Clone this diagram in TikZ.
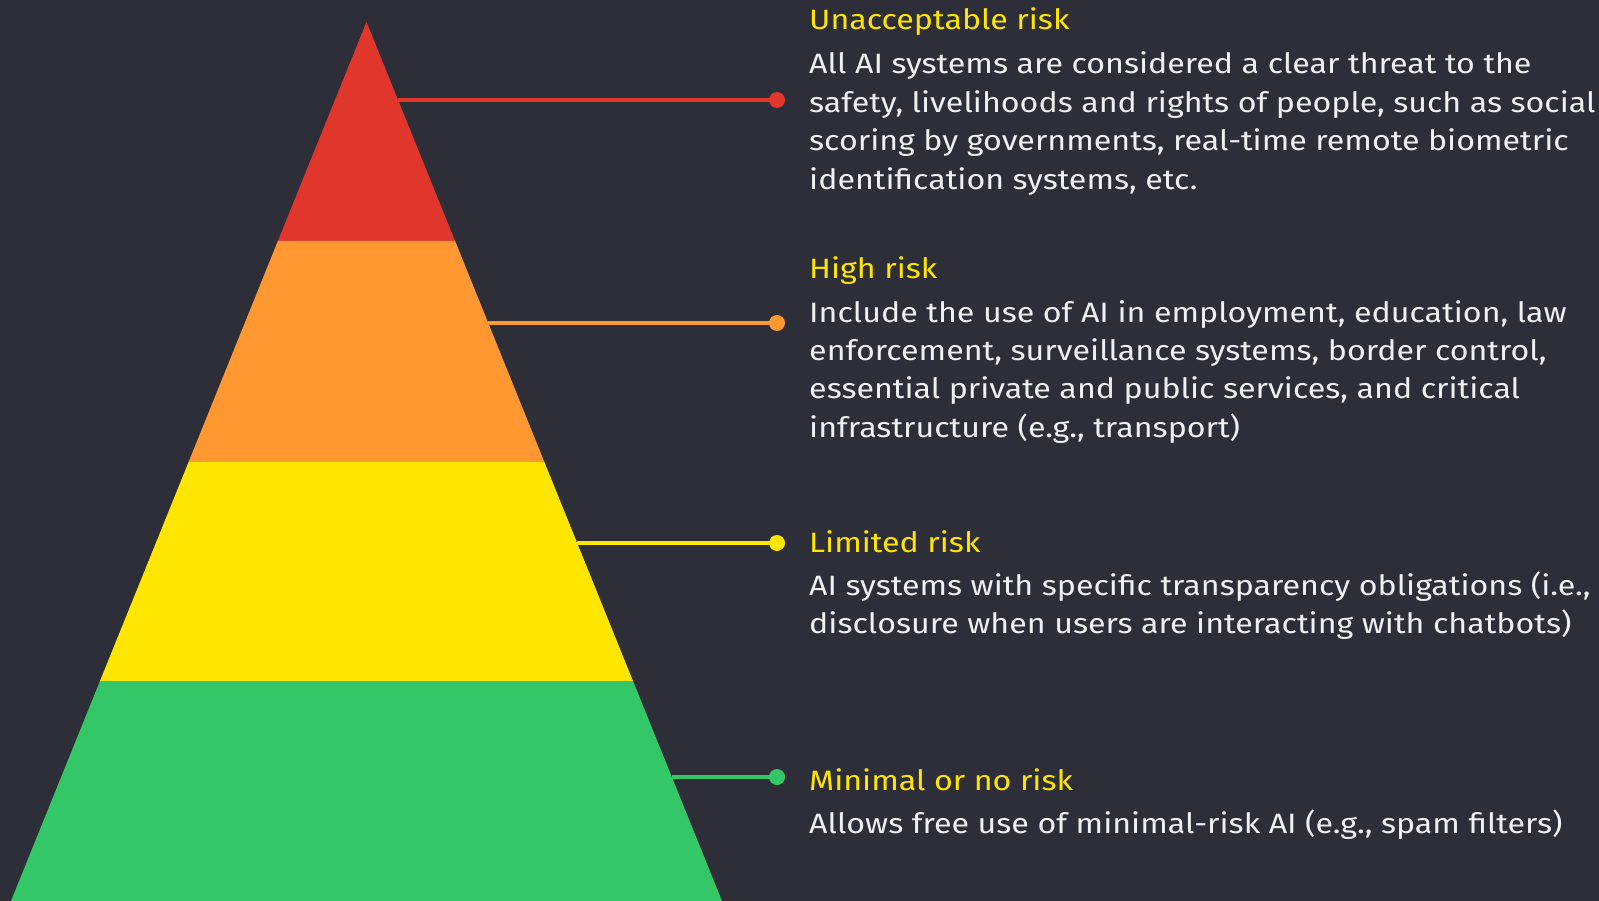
\documentclass[tikz,border=0pt]{standalone}
\usepackage{fontspec}
\setmainfont[FakeStretch=1.15]{Fira Sans}
\usetikzlibrary{positioning}

\definecolor{bgdark}{RGB}{46,46,56}
\definecolor{riskred}{RGB}{224,54,44}
\definecolor{riskorange}{RGB}{255,152,49}
\definecolor{riskyellow}{RGB}{255,230,0}
\definecolor{riskgreen}{RGB}{52,199,104}
\definecolor{bodytext}{RGB}{240,240,242}

\begin{document}
\begin{tikzpicture}[x=1pt,y=-1pt,
    tiertitle/.style={anchor=base west,inner sep=0pt,text=riskyellow,font=\fontsize{28}{38.4}\selectfont},
    tierbody/.style={anchor=base west,inner sep=0pt,text=bodytext,align=left,font=\fontsize{28}{38.4}\selectfont},
    leader/.style={line width=4pt},
    enddot/.style={circle,inner sep=0pt,minimum size=16pt}]
    % background
    \path[use as bounding box,fill=bgdark] (0,0) rectangle (1599,901);
    % pyramid tiers
    \fill[riskred] (366.5,22) -- (455.1,241) -- (277.9,241) -- cycle;
    \fill[riskorange] (277.9,241) -- (455.1,241) -- (544.4,462) -- (188.6,462) -- cycle;
    \fill[riskyellow] (188.6,462) -- (544.4,462) -- (633,681) -- (100,681) -- cycle;
    \fill[riskgreen] (100,681) -- (633,681) -- (722,901) -- (11,901) -- cycle;
    % leader lines
    \coordinate (edgered) at (398,100);
    \coordinate (edgeorange) at (488.2,323);
    \coordinate (edgeyellow) at (577.2,543);
    \coordinate (edgegreen) at (671.8,777);
    \node[enddot,fill=riskred] (dotred) at (777,100) {};
    \node[enddot,fill=riskorange] (dotorange) at (777,323) {};
    \node[enddot,fill=riskyellow] (dotyellow) at (777,543) {};
    \node[enddot,fill=riskgreen] (dotgreen) at (777,777) {};
    \draw[leader,riskred] (edgered) -- (dotred.center);
    \draw[leader,riskorange] (edgeorange) -- (dotorange.center);
    \draw[leader,riskyellow] (edgeyellow) -- (dotyellow.center);
    \draw[leader,riskgreen] (edgegreen) -- (dotgreen.center);
    % texts (body nodes sit on their last baseline)
    \node[tiertitle] (titlered) at (809,30) {Unacceptable risk};
    \node[tierbody] (bodyred) at (809,189.2) {All AI systems are considered a clear threat to the\\
        safety, livelihoods and rights of people, such as social\\
        scoring by governments, real-time remote biometric\\
        identification systems, etc.};
    \node[tiertitle] (titleorange) at (809,279) {High risk};
    \node[tierbody] (bodyorange) at (809,437.2) {Include the use of AI in employment, education, law\\
        enforcement, surveillance systems, border control,\\
        essential private and public services, and critical\\
        infrastructure (e.g., transport)};
    \node[tiertitle] (titleyellow) at (809,552) {Limited risk};
    \node[tierbody] (bodyyellow) at (809,633.4) {AI systems with specific transparency obligations (i.e.,\\
        disclosure when users are interacting with chatbots)};
    \node[tiertitle] (titlegreen) at (809,790) {Minimal or no risk};
    \node[tierbody] (bodygreen) at (809,833) {Allows free use of minimal-risk AI (e.g., spam filters)};
\end{tikzpicture}
\end{document}
